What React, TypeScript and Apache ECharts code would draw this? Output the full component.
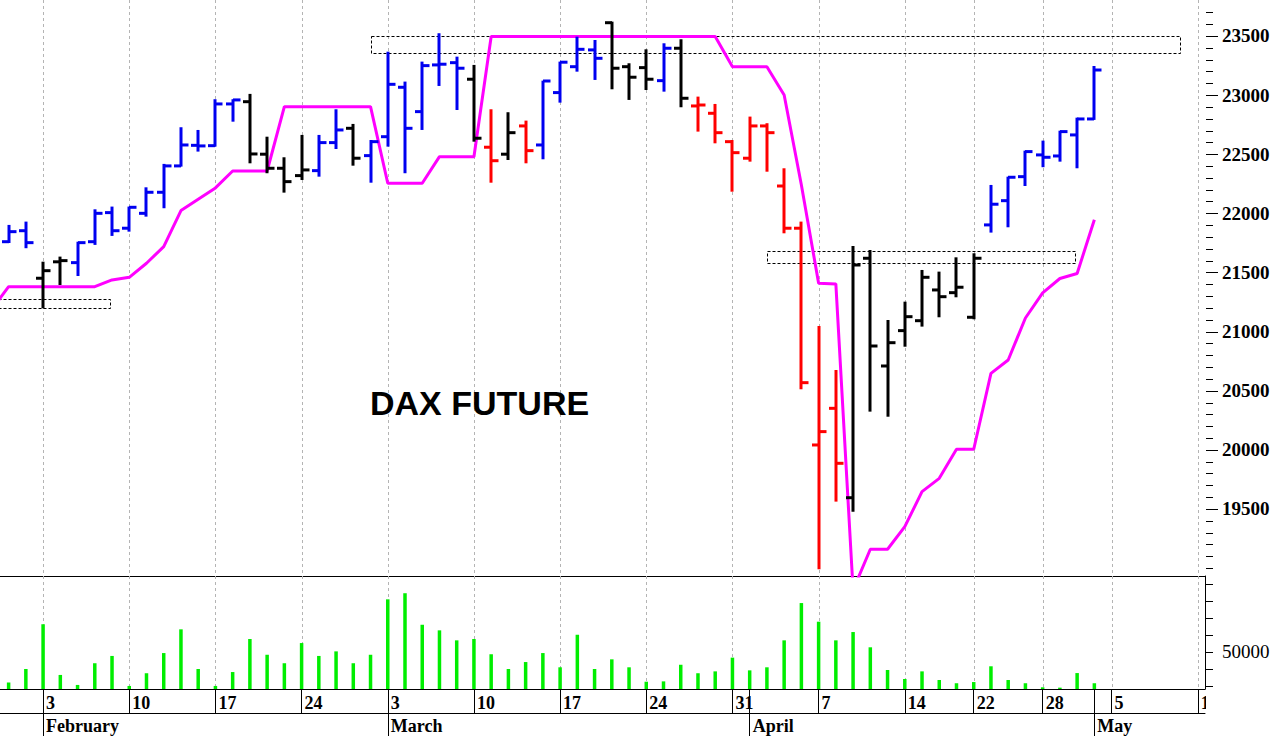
import React, { useEffect, useRef } from 'react';
import * as echarts from 'echarts';

// Trading days shown on the x axis (DAX future, holidays skipped)
const dates: string[] = [
  '2025-01-30', '2025-01-31',
  '2025-02-03', '2025-02-04', '2025-02-05', '2025-02-06', '2025-02-07',
  '2025-02-10', '2025-02-11', '2025-02-12', '2025-02-13', '2025-02-14',
  '2025-02-17', '2025-02-18', '2025-02-19', '2025-02-20', '2025-02-21',
  '2025-02-24', '2025-02-25', '2025-02-26', '2025-02-27', '2025-02-28',
  '2025-03-03', '2025-03-04', '2025-03-05', '2025-03-06', '2025-03-07',
  '2025-03-10', '2025-03-11', '2025-03-12', '2025-03-13', '2025-03-14',
  '2025-03-17', '2025-03-18', '2025-03-19', '2025-03-20', '2025-03-21',
  '2025-03-24', '2025-03-25', '2025-03-26', '2025-03-27', '2025-03-28',
  '2025-03-31', '2025-04-01', '2025-04-02', '2025-04-03', '2025-04-04',
  '2025-04-07', '2025-04-08', '2025-04-09', '2025-04-10', '2025-04-11',
  '2025-04-14', '2025-04-15', '2025-04-16', '2025-04-17',
  '2025-04-22', '2025-04-23', '2025-04-24', '2025-04-25',
  '2025-04-28', '2025-04-29', '2025-04-30', '2025-05-02',
  '2025-05-05', '2025-05-06', '2025-05-07', '2025-05-08', '2025-05-09',
  '2025-05-12',
];

const monthNames = ['January', 'February', 'March', 'April', 'May', 'June',
  'July', 'August', 'September', 'October', 'November', 'December'];

const opens = [
  21760, 21853, 21451, 21590, 21583, 21760, 22006, 21874, 22000, 22178,
  22401, 22575, 22572, 22925, 22944, 22500, 22381, 22319, 22361, 22598,
  22719, 22488, 22648, 23066, 22860, 23255, 23274, 23134, 22559, 22500,
  22739, 22578, 23021, 23240, 23382, 23612, 23240, 23232, 23122, 23396,
  22908, 22846, 22606, 22466, 22739, 22231, 21874, 20041, 20351, 19595,
  21620, 20709, 21008, 21092, 21352, 21329, 21121, 21902, 22107, 22310,
  22494, 22485, 22663, 22798,
];
const highs = [
  21902, 21930, 21591, 21634, 21760, 22034, 22057, 22057, 22220, 22418,
  22728, 22705, 22965, 22965, 23010, 22648, 22474, 22663, 22663, 22880,
  22756, 22620, 23367, 23114, 23283, 23523, 23325, 23255, 22880, 22855,
  22784, 23122, 23283, 23494, 23466, 23621, 23269, 23387, 23438, 23472,
  22987, 22925, 22620, 22818, 22762, 22381, 21930, 21047, 20675, 21724,
  21690, 21098, 21253, 21521, 21507, 21628, 21662, 22240, 22310, 22530,
  22615, 22699, 22809, 23246,
];
const lows = [
  21749, 21705, 21197, 21394, 21470, 21733, 21809, 21845, 21972, 22043,
  22395, 22522, 22564, 22775, 22423, 22339, 22175, 22282, 22310, 22544,
  22403, 22259, 22564, 22339, 22705, 23077, 22874, 22606, 22259, 22451,
  22423, 22457, 22936, 23198, 23128, 23049, 22959, 23043, 23029, 22897,
  22691, 22592, 22183, 22437, 22352, 21831, 20512, 18990, 19562, 19477,
  20323, 20280, 20872, 21042, 21121, 21290, 21104, 21837, 21882, 22231,
  22390, 22437, 22381, 22790,
];
const closes = [
  21845, 21752, 21515, 21600, 21752, 22000, 21853, 22051, 22178, 22401,
  22578, 22570, 22925, 22959, 22502, 22381, 22268, 22367, 22598, 22705,
  22466, 22606, 23091, 22719, 23249, 23261, 23227, 22635, 22445, 22682,
  22530, 23119, 23278, 23387, 23311, 23227, 23151, 23134, 23396, 22973,
  22916, 22682, 22513, 22739, 22682, 21874, 20568, 20154, 19886, 21563,
  20878, 20906, 21126, 21459, 21295, 21375, 21620, 22077, 22305, 22522,
  22474, 22691, 22798, 23212,
];
// B = up (blue), K = neutral (black), R = down (red)
const trend = [
  'B', 'B', 'K', 'K', 'B', 'B', 'B', 'B', 'B', 'B',
  'B', 'B', 'B', 'B', 'K', 'K', 'K', 'K', 'B', 'B',
  'K', 'B', 'B', 'B', 'B', 'B', 'B', 'K', 'R', 'K',
  'R', 'B', 'B', 'B', 'B', 'K', 'K', 'K', 'B', 'K',
  'R', 'R', 'R', 'R', 'R', 'R', 'R', 'R', 'R', 'K',
  'K', 'K', 'K', 'K', 'K', 'K', 'K', 'B', 'B', 'B',
  'B', 'B', 'B', 'B',
];

// trailing stop line (first value belongs to the day before the first shown day)
const stopLineStartIndex = -1;
const stopLine = [
  21184,
  21380, 21380, 21380, 21380, 21380, 21380, 21437, 21459, 21578, 21718,
  22023, 22119, 22215, 22358, 22358, 22358, 22902, 22902, 22902, 22902,
  22902, 22902, 22254, 22254, 22254, 22479, 22479, 22479, 23495, 23495,
  23495, 23495, 23495, 23495, 23495, 23495, 23495, 23495, 23495, 23495,
  23495, 23495, 23240, 23240, 23240, 23001, 22240, 21409, 21403, 18815,
  19159, 19159, 19350, 19646, 19759, 20005, 20005, 20647, 20760, 21115,
  21327, 21449, 21491, 21946,
];

const volumes = [
  31900, 39800, 66200, 36300, 30400, 43200, 47500, 29800, 37300, 49200,
  63200, 39800, 29800, 38000, 57500, 48200, 43200, 55100, 47500, 50200,
  43200, 48200, 80900, 84500, 65900, 62600, 56700, 57500, 48500, 39800,
  43900, 49200, 40800, 60000, 39800, 45500, 40800, 32300, 32500, 42300,
  37300, 38400, 46500, 39000, 40800, 56700, 78700, 67700, 56700, 61600,
  52600, 39200, 33900, 38400, 33300, 31400, 32100, 41400, 33300, 31400,
  29000, 28800, 37400, 31400,
];

// dashed zones: [fromIndex, topValue, toIndex, bottomValue]
const zones = [
  [-0.6, 21276, 5.9, 21197],
  [21.05, 23500, 68.0, 23356],
  [44.0, 21678, 61.9, 21578],
];

const priceLabels = [19500, 20000, 20500, 21000, 21500, 22000, 22500, 23000, 23500];
const priceMinorTicks = [
  19000, 19100, 19200, 19300, 19400, 19600, 19700, 19800, 19900,
  20100, 20200, 20300, 20400, 20600, 20700, 20800, 20900,
  21100, 21200, 21300, 21400, 21600, 21700, 21800, 21900,
  22100, 22200, 22300, 22400, 22600, 22700, 22800, 22900,
  23100, 23200, 23300, 23400, 23600, 23700,
];
const volumeTicks = [30000, 40000, 50000, 60000, 70000, 80000, 90000];
const volumeLabels = [50000];

const X_MIN = -0.5;
const X_MAX = 69.42;
const P_MIN = 18933;
const P_MAX = 23804;
const V_MIN = 28000;
const V_MAX = 94660;

const colorMap: Record<string, string> = { B: '#0000f0', K: '#000000', R: '#ff0000' };

const parsed = dates.map((d) => new Date(d + 'T00:00:00Z'));
const weekStarts: number[] = [];
const monthStarts: number[] = [];
for (let i = 1; i < parsed.length; i++) {
  const prev = parsed[i - 1];
  const cur = parsed[i];
  const gap = (cur.getTime() - prev.getTime()) / 86400000;
  if (cur.getUTCDay() <= prev.getUTCDay() || gap >= 7) weekStarts.push(i);
  if (cur.getUTCMonth() !== prev.getUTCMonth()) monthStarts.push(i);
}
const dayRowTicks = Array.from(new Set([...weekStarts, ...monthStarts])).sort((a, b) => a - b);

const serif = '"Liberation Serif", "DejaVu Serif", serif';

function tickSeries(name: string, xAxisIndex: number, yAxisIndex: number, values: number[], len: number): any {
  return {
    type: 'custom', name, xAxisIndex, yAxisIndex, z: 5, silent: true, clip: false,
    data: values.map((v) => [X_MAX, v]),
    encode: { x: 0, y: 1 },
    renderItem: (params: any, api: any) => {
      const p = api.coord([api.value(0), api.value(1)]);
      const x = Math.round(p[0]) + 1;
      const y = Math.round(p[1]) + 0.5;
      return {
        type: 'line', silent: true,
        shape: { x1: x, y1: y, x2: x + len, y2: y },
        style: { stroke: '#000', lineWidth: 1 },
      };
    },
  };
}

function buildOption(): any {
  const ohlcData = opens.map((o, i) => [i, o, highs[i], lows[i], closes[i]]);
  const stopData = stopLine.map((v, k) => [k + stopLineStartIndex, v]);
  const volData = volumes.map((v, i) => [i, v]);

  const gridLineRender = (params: any, api: any) => {
    const x = Math.round(api.coord([api.value(0), api.value(1)])[0]) + 0.5;
    const cs = params.coordSys;
    return {
      type: 'line',
      silent: true,
      shape: { x1: x, y1: cs.y, x2: x, y2: cs.y + cs.height },
      style: { stroke: '#b4b4b4', lineWidth: 1, lineDash: [3, 3] },
    };
  };

  return {
    animation: false,
    backgroundColor: '#ffffff',
    grid: [
      { left: 0, top: 0, width: 1205, height: 576, outerBoundsMode: 'none', containLabel: false },
      { left: 0, top: 576, width: 1205, height: 113, outerBoundsMode: 'none', containLabel: false },
    ],
    xAxis: [
      {
        gridIndex: 0, type: 'value', min: X_MIN, max: X_MAX, position: 'bottom',
        axisLine: { show: true, onZero: false, lineStyle: { color: '#000', width: 1 } },
        axisTick: { show: false }, axisLabel: { show: false }, splitLine: { show: false },
      },
      {
        gridIndex: 1, type: 'value', min: X_MIN, max: X_MAX, position: 'bottom',
        axisLine: { show: true, onZero: false, lineStyle: { color: '#000', width: 1 } },
        axisTick: { show: true, customValues: dayRowTicks, length: 24, lineStyle: { color: '#000', width: 1 } },
        axisLabel: {
          show: true, customValues: weekStarts, align: 'left', margin: 5, padding: [0, 0, 0, 3],
          formatter: (v: number) => String(parsed[Math.round(v)].getUTCDate()),
          fontFamily: serif, fontWeight: 'bold', fontSize: 18, color: '#000',
        },
        splitLine: { show: false },
      },
      {
        gridIndex: 1, type: 'value', min: X_MIN, max: X_MAX, position: 'bottom', offset: 24,
        axisLine: { show: true, onZero: false, lineStyle: { color: '#000', width: 1 } },
        axisTick: { show: true, customValues: monthStarts, length: 24, lineStyle: { color: '#000', width: 1 } },
        axisLabel: {
          show: true, customValues: monthStarts, align: 'left', margin: 4, padding: [0, 0, 0, 3],
          formatter: (v: number) => monthNames[parsed[Math.round(v)].getUTCMonth()],
          fontFamily: serif, fontWeight: 'bold', fontSize: 18, color: '#000',
        },
        splitLine: { show: false },
      },
    ],
    yAxis: [
      {
        gridIndex: 0, type: 'value', position: 'right', min: P_MIN, max: P_MAX,
        axisLine: { show: false, onZero: false },
        axisTick: { show: false },
        axisLabel: {
          show: true, customValues: priceLabels, margin: 17,
          formatter: (v: number) => String(v),
          fontFamily: serif, fontWeight: 'bold', fontSize: 19, color: '#000',
        },
        splitLine: { show: false },
      },
      {
        gridIndex: 1, type: 'value', position: 'right', min: V_MIN, max: V_MAX,
        axisLine: { show: true, onZero: false, lineStyle: { color: '#000', width: 1 } },
        axisTick: { show: false },
        axisLabel: {
          show: true, customValues: volumeLabels, margin: 17,
          formatter: (v: number) => String(v),
          fontFamily: serif, fontSize: 19, color: '#000',
        },
        splitLine: { show: false },
      },
    ],
    series: [
      {
        type: 'custom', name: 'priceGrid', xAxisIndex: 0, yAxisIndex: 0, z: 1, silent: true,
        data: weekStarts.map((i) => [i, 21000]),
        encode: { x: 0, y: 1 },
        renderItem: gridLineRender,
      },
      {
        type: 'custom', name: 'volumeGrid', xAxisIndex: 1, yAxisIndex: 1, z: 1, silent: true,
        data: weekStarts.map((i) => [i, 50000]),
        encode: { x: 0, y: 1 },
        renderItem: gridLineRender,
      },
      tickSeries('priceMajorTicks', 0, 0, priceLabels, 12),
      tickSeries('priceMinorTicks', 0, 0, priceMinorTicks, 7),
      tickSeries('volumeTicks', 1, 1, volumeTicks, 7),
      {
        type: 'custom', name: 'zones', xAxisIndex: 0, yAxisIndex: 0, z: 2, silent: true, clip: true,
        data: zones,
        encode: { x: [0, 2], y: [1, 3] },
        renderItem: (params: any, api: any) => {
          const p1 = api.coord([api.value(0), api.value(1)]);
          const p2 = api.coord([api.value(2), api.value(3)]);
          const x = Math.round(Math.min(p1[0], p2[0])) + 0.5;
          const y = Math.round(Math.min(p1[1], p2[1])) + 0.5;
          return {
            type: 'rect',
            shape: { x, y, width: Math.round(Math.abs(p2[0] - p1[0])), height: Math.round(Math.abs(p2[1] - p1[1])) },
            style: { fill: 'none', stroke: '#000', lineWidth: 1, lineDash: [3, 2] },
          };
        },
      },
      {
        type: 'line', name: 'stop', xAxisIndex: 0, yAxisIndex: 0, z: 3,
        data: stopData, symbol: 'none', showSymbol: false, clip: true, smooth: false,
        lineStyle: { color: '#ff00ff', width: 3 },
      },
      {
        type: 'custom', name: 'DAX', xAxisIndex: 0, yAxisIndex: 0, z: 4,
        data: ohlcData,
        encode: { x: 0, y: [1, 2, 3, 4] },
        renderItem: (params: any, api: any) => {
          const i = api.value(0);
          const o = api.coord([i, api.value(1)]);
          const h = api.coord([i, api.value(2)]);
          const l = api.coord([i, api.value(3)]);
          const c = api.coord([i, api.value(4)]);
          const color = colorMap[trend[params.dataIndex]];
          const x = Math.round(h[0]);
          return {
            type: 'group',
            children: [
              { type: 'rect', shape: { x: x - 1.5, y: h[1], width: 3, height: l[1] - h[1] }, style: { fill: color } },
              { type: 'rect', shape: { x: x - 7, y: o[1] - 1.5, width: 7, height: 3 }, style: { fill: color } },
              { type: 'rect', shape: { x: x, y: c[1] - 1.5, width: 7.5, height: 3 }, style: { fill: color } },
            ],
          };
        },
      },
      {
        type: 'bar', name: 'Volume', xAxisIndex: 1, yAxisIndex: 1, z: 3,
        data: volData, barWidth: 3.5,
        itemStyle: { color: '#00ee00' },
      },
    ],
    graphic: [
      {
        type: 'text', left: 370, top: 386, z: 50,
        style: {
          text: 'DAX FUTURE', fill: '#000',
          font: 'bold 34px "Liberation Sans", Arial, sans-serif',
        },
      },
      {
        type: 'rect', z: 100, silent: true,
        shape: { x: 1206, y: 690, width: 70, height: 22 },
        style: { fill: '#ffffff' },
      },
    ],
  };
}

export default function App() {
  const ref = useRef<HTMLDivElement>(null);
  useEffect(() => {
    document.body.style.margin = '0';
    const chart = echarts.init(ref.current as HTMLDivElement, null, { renderer: 'svg' });
    chart.setOption(buildOption());
    return () => chart.dispose();
  }, []);
  return <div ref={ref} style={{ width: 1276, height: 736, background: '#fff' }} />;
}
